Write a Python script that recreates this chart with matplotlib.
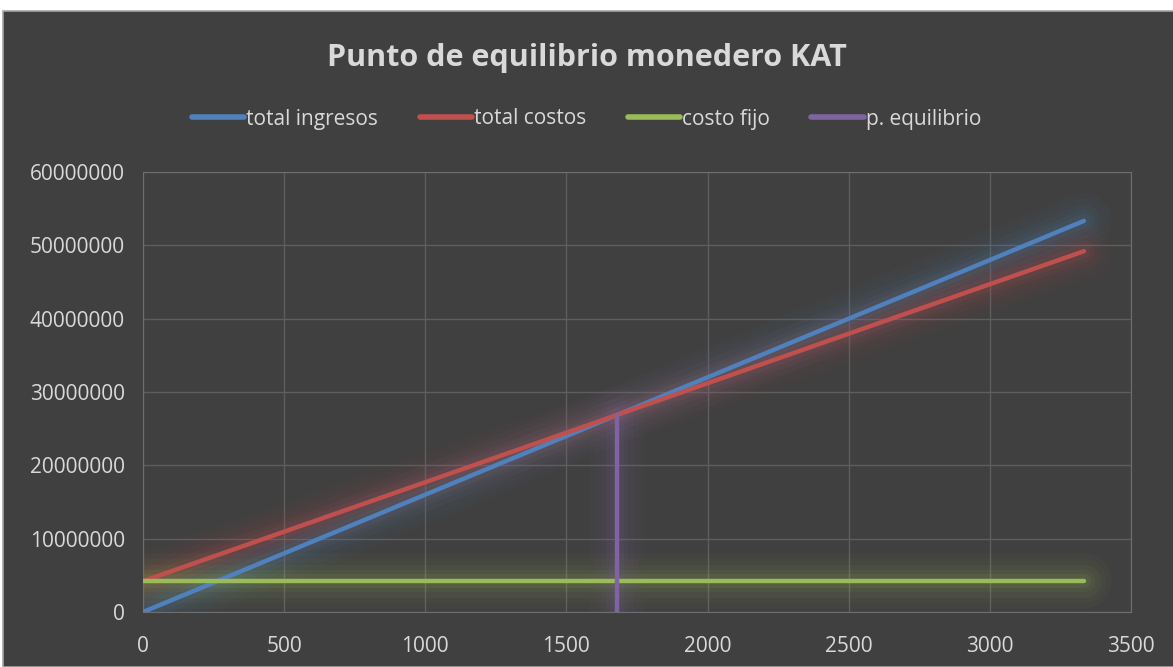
import matplotlib.pyplot as plt
from matplotlib.patches import Rectangle
from matplotlib.ticker import MultipleLocator, FuncFormatter

# unidades vendidas y montos en pesos
unidades = [0, 3333]
ingresos = [0, 53328000]
costos = [4200000, 49195500]
costo_fijo = [4200000, 4200000]
equilibrio_x = [1680, 1680]
equilibrio_y = [0, 26880000]

series = [
    ("total ingresos", unidades, ingresos, "#4F81BD"),
    ("total costos", unidades, costos, "#C0504D"),
    ("costo fijo", unidades, costo_fijo, "#9BBB59"),
    ("p. equilibrio", equilibrio_x, equilibrio_y, "#8064A2"),
]

plt.rcParams['font.family'] = ['Open Sans', 'DejaVu Sans']
txt = '#d9d9d9'
bg = '#404040'

fig = plt.figure(figsize=(11.73, 6.67), dpi=100)
fig.patch.set_facecolor('white')
fig.patches.append(Rectangle((3 / 1173, 0), 1, 1 - 11 / 667, transform=fig.transFigure,
                             facecolor=bg, edgecolor='#a6a6a6', lw=1.2, zorder=-10))

ax = fig.add_axes([143 / 1173, 55 / 667, 988 / 1173, 440 / 667])
ax.set_facecolor(bg)

for name, x, y, c in series:
    # brillo difuso alrededor de cada linea
    for w, a in [(40, 0.035), (32, 0.04), (24, 0.05), (16, 0.07), (10, 0.09)]:
        ax.plot(x, y, color=c, lw=w, alpha=a, solid_capstyle='round', zorder=2)
    ax.plot(x, y, color=c, lw=3.2, solid_capstyle='round', label=name, zorder=3)

ax.set_xlim(0, 3500)
ax.set_ylim(0, 60000000)
ax.xaxis.set_major_locator(MultipleLocator(500))
ax.yaxis.set_major_locator(MultipleLocator(10000000))
ax.yaxis.set_major_formatter(FuncFormatter(lambda v, p: f"{int(v)}"))
ax.grid(True, color='#5e5e5e', lw=1)
ax.set_axisbelow(True)
for s in ax.spines.values():
    s.set_color('#6e6e6e')
ax.tick_params(length=0, colors=txt, labelsize=15, pad=17)
ax.tick_params(axis='y', pad=13)

fig.text(0.5, 1 - 58 / 667, "Punto de equilibrio monedero KAT", ha='center', va='center',
         color=txt, fontsize=22, fontweight='bold')

leg = fig.legend(loc='center', bbox_to_anchor=(0.5, 1 - 119 / 667), ncol=4, frameon=False,
                 fontsize=15, handlelength=2.5, handletextpad=0.1, columnspacing=2.0)
for t in leg.get_texts():
    t.set_color(txt)
for h in leg.legend_handles:
    h.set_linewidth(4)

fig.savefig('out.png', dpi=100, facecolor=fig.get_facecolor())
